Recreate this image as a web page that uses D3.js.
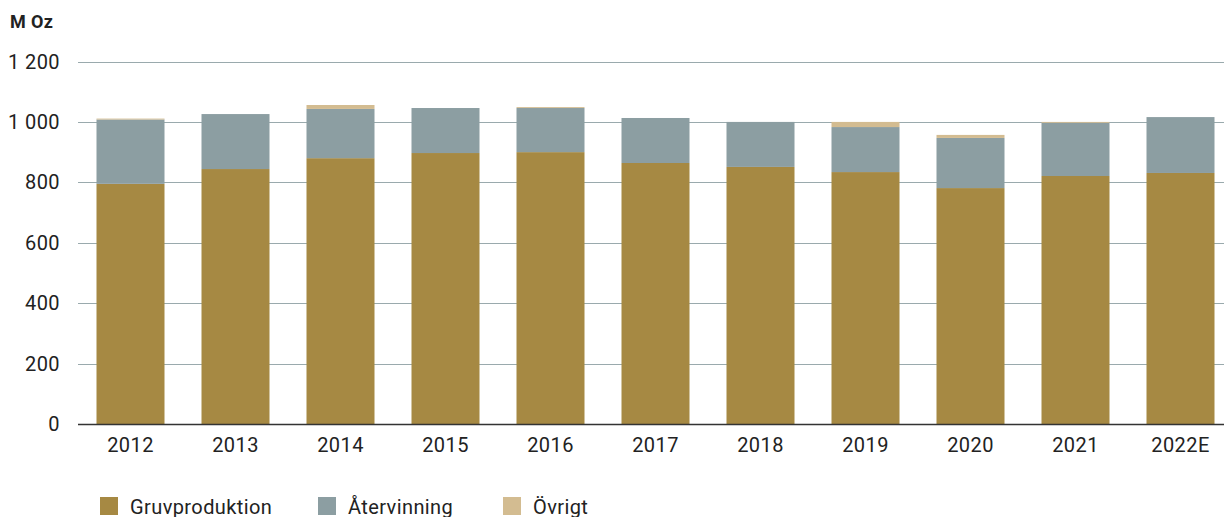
<!DOCTYPE html>
<html>
<head>
<meta charset="utf-8">
<script src="https://cdn.jsdelivr.net/npm/d3@7"></script>
<style>
  body { margin: 0; background: #fff; }
  svg text { font-family: Roboto, "DejaVu Sans", sans-serif; fill: #222; letter-spacing: 0.4px; }
</style>
</head>
<body>
<svg width="1224" height="517"></svg>
<script>
// data (M Oz)
const years = ["2012","2013","2014","2015","2016","2017","2018","2019","2020","2021","2022E"];
const gruvproduktion = [795, 844, 880, 897, 900, 864, 851, 834, 781, 821, 831];
const atervinning   = [213, 182, 163, 149, 146, 149, 149, 149, 166, 176, 185];
const ovrigt        = [3,   0,   13,  0,   3,   0,   0,   17,  10,  3,   0];
const yTicks = [0, 200, 400, 600, 800, 1000, 1200];
const seriesNames = ["Gruvproduktion", "Återvinning", "Övrigt"];
const colors = ["#a68943", "#8c9ea2", "#d3bc91"];

var svg = d3.select("svg"),
    plotLeft = 78, plotRight = 1224, plotTop = 61.5, plotBottom = 424;

let xScale = d3.scaleBand().domain(years)
    .range([plotLeft, plotLeft + 105 * years.length])
    .paddingInner(37/105).paddingOuter(18.5/105);
let yScale = d3.scaleLinear().domain([0, 1200]).range([plotBottom, plotTop]);

// gridlines
svg.append("g")
  .selectAll("line")
  .data(yTicks.filter(d => d > 0))
  .enter().append("line")
  .attr("x1", plotLeft).attr("x2", plotRight)
  .attr("y1", d => Math.round(yScale(d)) + 0.5)
  .attr("y2", d => Math.round(yScale(d)) + 0.5)
  .attr("stroke", "#9aaaad")
  .attr("stroke-width", 1);

// y labels
svg.append("g")
  .selectAll("text")
  .data(yTicks)
  .enter().append("text")
  .attr("x", 60)
  .attr("y", d => yScale(d) + 7)
  .attr("text-anchor", "end")
  .style("font-size", "20px")
  .text(d => d3.format(",")(d).replace(",", " "));

svg.append("text")
  .attr("x", 10).attr("y", 28)
  .style("font-size", "18px").style("font-weight", "bold")
  .text("M Oz");

// stacked bars
const rows = years.map((y, i) => ({year: y, g: gruvproduktion[i], a: atervinning[i], o: ovrigt[i]}));
const stack = d3.stack().keys(["g", "a", "o"])(rows);

svg.append("g")
  .selectAll("g")
  .data(stack)
  .enter().append("g")
  .attr("fill", (d, i) => colors[i])
  .selectAll("rect")
  .data(d => d)
  .enter().append("rect")
  .attr("x", d => xScale(d.data.year))
  .attr("width", xScale.bandwidth())
  .attr("y", d => yScale(d[1]))
  .attr("height", d => yScale(d[0]) - yScale(d[1]));

// baseline
svg.append("line")
  .attr("x1", plotLeft).attr("x2", plotRight)
  .attr("y1", plotBottom + 0.5).attr("y2", plotBottom + 0.5)
  .attr("stroke", "#333").attr("stroke-width", 1.5);

// x labels
svg.append("g")
  .selectAll("text")
  .data(years)
  .enter().append("text")
  .attr("x", d => xScale(d) + xScale.bandwidth() / 2)
  .attr("y", 452)
  .attr("text-anchor", "middle")
  .style("font-size", "20px")
  .text(d => d);

// legend
const legendX = [100, 318, 503];
const lg = svg.append("g")
  .selectAll("g")
  .data(seriesNames)
  .enter().append("g")
  .attr("transform", (d, i) => "translate(" + legendX[i] + ",497)");
lg.append("rect").attr("width", 18).attr("height", 18).attr("fill", (d, i) => colors[i]);
lg.append("text").attr("x", 30).attr("y", 17).style("font-size", "20px").text(d => d);
</script>
</body>
</html>
